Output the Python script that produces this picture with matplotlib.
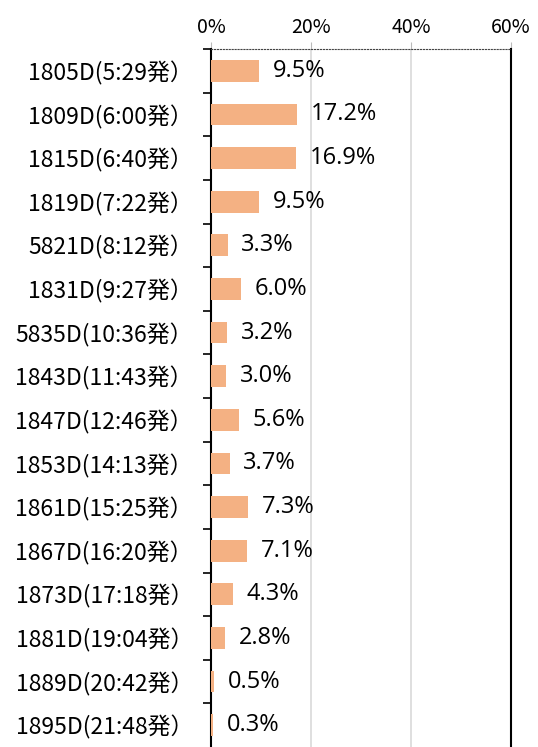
import numpy as np
import matplotlib.pyplot as plt

# data
trains = ["1805D(5:29発）", "1809D(6:00発）", "1815D(6:40発）", "1819D(7:22発）",
          "5821D(8:12発）", "1831D(9:27発）", "5835D(10:36発）", "1843D(11:43発）",
          "1847D(12:46発）", "1853D(14:13発）", "1861D(15:25発）", "1867D(16:20発）",
          "1873D(17:18発）", "1881D(19:04発）", "1889D(20:42発）", "1895D(21:48発）"]
share = [9.5, 17.2, 16.9, 9.5, 3.3, 6.0, 3.2, 3.0, 5.6, 3.7, 7.3, 7.1, 4.3, 2.8, 0.5, 0.3]
xticks = [0, 20, 40, 60]

plt.rcParams['font.family'] = ['Noto Sans CJK JP', 'DejaVu Sans']

fig = plt.figure(figsize=(5.38, 7.47), dpi=100)
ax = fig.add_axes([211 / 538, 0.0, 300 / 538, (747 - 49) / 747])

y = np.arange(len(trains))
bars = ax.barh(y, share, height=0.5, color="#F4B183", zorder=3)
ax.bar_label(bars, labels=[f"{v:.1f}%" for v in share], padding=10,
             fontsize=17, family="Open Sans")

ax.set_xlim(0, 60)
ax.set_ylim(len(trains) - 0.5, -0.5)
ax.xaxis.tick_top()
ax.set_xticks(xticks)
ax.set_xticklabels([f"{t}%" for t in xticks], fontsize=14)
ax.tick_params(axis="x", length=5, color="#BBBBBB", pad=3)
ax.grid(axis="x", color="#D9D9D9", linewidth=1.2, zorder=0)

# category labels centred, ticks at boundaries
ax.set_yticks(y)
ax.set_yticklabels(trains, fontsize=16.5)
ax.tick_params(axis="y", length=0, pad=13)
ax.set_yticks(np.arange(len(trains)) - 0.5, minor=True)
ax.tick_params(axis="y", which="minor", length=6, width=1.2, color="black")

ax.spines["top"].set_linestyle(":")
ax.spines["top"].set_color("#444444")
ax.spines["bottom"].set_visible(False)
ax.spines["left"].set_linewidth(1.5)
ax.spines["right"].set_linewidth(1.5)

fig.savefig("out.png", dpi=100)
